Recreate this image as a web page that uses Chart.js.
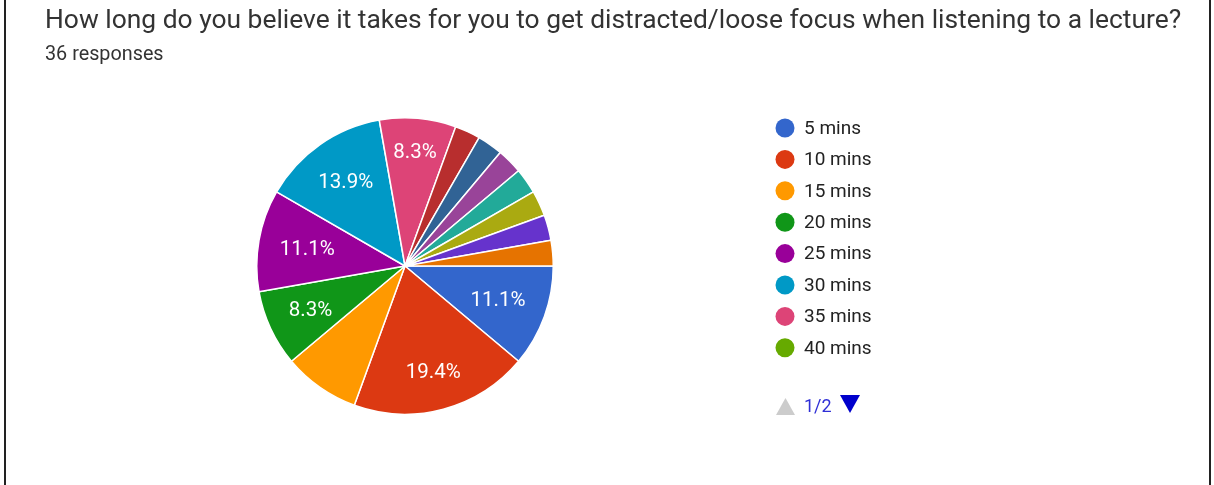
<!DOCTYPE html>
<html>
<head>
<meta charset="utf-8">
<title>Lecture focus survey</title>
<script src="https://cdn.jsdelivr.net/npm/chart.js@4.4.1/dist/chart.umd.min.js"></script>
<style>
  body { margin: 0; background: #fff; }
  #wrap { position: relative; width: 1214px; height: 485px; overflow: hidden; background: #fff; }
  .edge { position: absolute; top: 0; bottom: 0; width: 2px; background: #222; }
  #title, #sub { position: absolute; left: 45px; white-space: nowrap; font-family: Roboto, sans-serif; line-height: 1; color: #333; z-index: 2; }
  #title { top: 6px; font-size: 26.4px; }
  #sub { top: 44px; font-size: 19.8px; }
  #pie { position: absolute; left: 0; top: 0; }
</style>
</head>
<body>
<div id="wrap">
  <div class="edge" style="left:4px"></div>
  <div class="edge" style="left:1209px"></div>
  <div id="title">How long do you believe it takes for you to get distracted/loose focus when listening to a lecture?</div>
  <div id="sub"></div>
  <canvas id="pie" width="1214" height="485"></canvas>
</div>
<script>
// answers and how many people picked each one
const answers = ['5 mins', '10 mins', '15 mins', '20 mins', '25 mins', '30 mins', '35 mins', '40 mins',
  '45 mins', '50 mins', '1 hour', '1.5 hours', '2 hours', 'Never', 'It depends'];
const counts = [4, 7, 3, 3, 4, 5, 3, 0, 1, 1, 1, 1, 1, 1, 1];
const sliceColors = ['#3366cc', '#dc3912', '#ff9900', '#109618', '#990099', '#0099c6', '#dd4477', '#66aa00',
  '#b82e2e', '#316395', '#994499', '#22aa99', '#aaaa11', '#6633cc', '#e67300'];
// slices that get no percentage written on them
const noPctLabel = ['15 mins'];
const perPage = 8;

const total = counts.reduce((a, b) => a + b, 0);
document.getElementById('sub').textContent = `${total} responses`;

const chartFont = 'Roboto, sans-serif';

// percentage text inside the bigger slices, pushed out until its far corner hits the inner ring
const sliceLabels = {
  id: 'sliceLabels',
  afterDatasetsDraw(chart) {
    const ctx = chart.ctx;
    const meta = chart.getDatasetMeta(0);
    ctx.save();
    ctx.font = `20.5px ${chartFont}`;
    ctx.fillStyle = '#fff';
    ctx.textAlign = 'center';
    ctx.textBaseline = 'middle';
    meta.data.forEach((arc, i) => {
      const share = counts[i] / total;
      if (share < 0.05 || noPctLabel.includes(answers[i])) return;
      const p = arc.getProps(['x', 'y', 'startAngle', 'endAngle', 'outerRadius'], true);
      const text = `${(share * 100).toFixed(1)}%`;
      const mid = (p.startAngle + p.endAngle) / 2;
      const c = Math.cos(mid), s = Math.sin(mid);
      const a = Math.sign(c) * ctx.measureText(text).width / 2;
      const b = Math.sign(s) * 10;
      const rc = p.outerRadius - 20;
      const k = a * c + b * s;
      const d = -k + Math.sqrt(k * k - (a * a + b * b - rc * rc));
      ctx.fillText(text, p.x + d * c, p.y + d * s + 1);
    });
    ctx.restore();
  }
};

// first page of the legend plus the page switcher under it
const pagedLegend = {
  id: 'pagedLegend',
  afterDraw(chart) {
    const ctx = chart.ctx;
    const x = 785, y0 = 128, step = 31.4;
    ctx.save();
    ctx.font = `19px ${chartFont}`;
    ctx.textBaseline = 'middle';
    ctx.textAlign = 'left';
    answers.slice(0, perPage).forEach((name, i) => {
      const y = y0 + i * step;
      ctx.fillStyle = sliceColors[i];
      ctx.beginPath();
      ctx.arc(x, y, 9.5, 0, Math.PI * 2);
      ctx.fill();
      ctx.fillStyle = '#222';
      ctx.fillText(name, x + 19, y + 1);
    });

    const py = 406;
    const pages = Math.ceil(answers.length / perPage);
    ctx.fillStyle = '#cccccc';
    ctx.beginPath();
    ctx.moveTo(776, py + 9);
    ctx.lineTo(795, py + 9);
    ctx.lineTo(785.5, py - 8);
    ctx.closePath();
    ctx.fill();

    ctx.fillStyle = '#2f2fd6';
    ctx.font = `18px ${chartFont}`;
    ctx.fillText(`1/${pages}`, 804, py + 1);

    ctx.fillStyle = '#0000cc';
    ctx.beginPath();
    ctx.moveTo(840, py - 11);
    ctx.lineTo(860, py - 11);
    ctx.lineTo(850, py + 7);
    ctx.closePath();
    ctx.fill();
    ctx.restore();
  }
};

new Chart(document.getElementById('pie'), {
  type: 'pie',
  data: {
    labels: answers,
    datasets: [{
      data: counts,
      backgroundColor: sliceColors,
      borderColor: '#ffffff',
      borderWidth: 1.5
    }]
  },
  options: {
    responsive: false,
    devicePixelRatio: 1,
    animation: false,
    rotation: 90,
    layout: { padding: { left: 256, right: 660, top: 117, bottom: 70 } },
    plugins: {
      legend: { display: false },
      tooltip: { enabled: false }
    },
    events: []
  },
  plugins: [sliceLabels, pagedLegend]
});
</script>
</body>
</html>
